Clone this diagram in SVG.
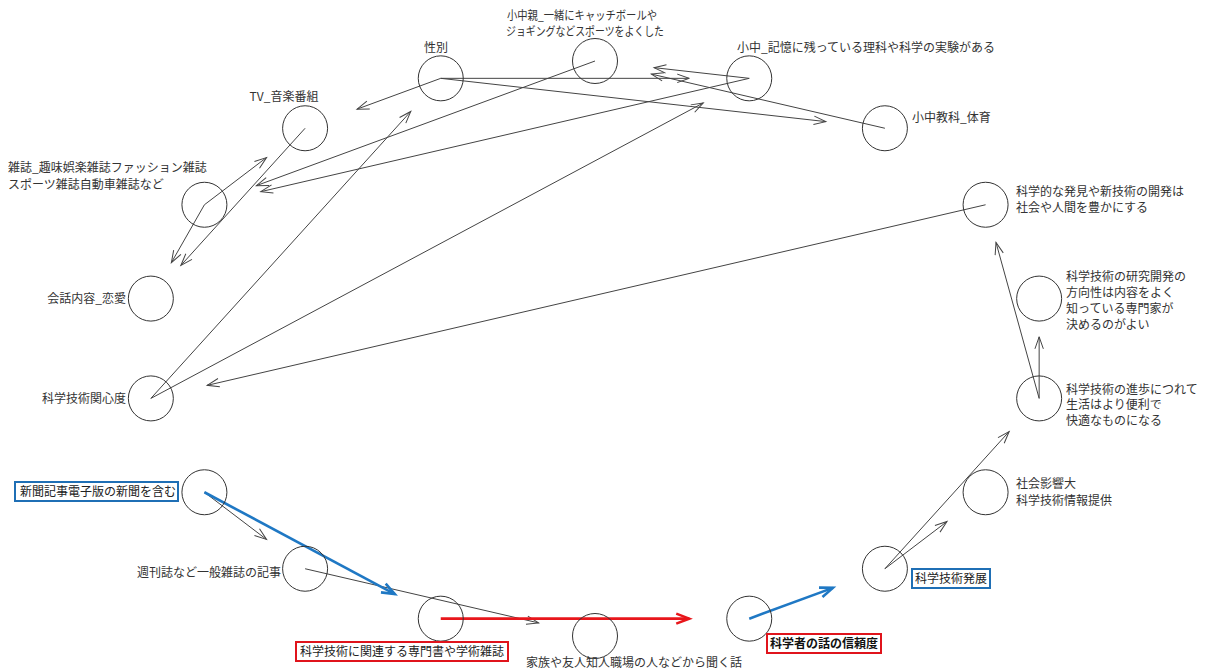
<svg xmlns="http://www.w3.org/2000/svg" width="1207" height="672" viewBox="0 0 1207 672">
<style>
.n{fill:none;stroke:#333;stroke-width:1}
.t{font-family:"Noto Sans CJK JP","Noto Sans",sans-serif;font-size:12px;fill:#333}
.e{fill:none;stroke:#444;stroke-width:1;marker-end:url(#ah)}
.eb{fill:none;stroke:#1f78c4;stroke-width:2.6;marker-end:url(#ahb)}
.er{fill:none;stroke:#e8161b;stroke-width:2.6;marker-end:url(#ahr)}
.bb{fill:#fff;stroke:#1f6fb5;stroke-width:2}
.br{fill:#fff;stroke:#e0141c;stroke-width:2}
</style>
<defs>
<marker id="ah" markerUnits="userSpaceOnUse" viewBox="-14 -7 16 14" refX="0" refY="0" markerWidth="16" markerHeight="14" orient="auto" overflow="visible"><path d="M-12,-4.2 L0,0 L-12,4.2" fill="none" stroke="#444" stroke-width="1"/></marker>
<marker id="ahb" markerUnits="userSpaceOnUse" viewBox="-16 -8 18 16" refX="0" refY="0" markerWidth="18" markerHeight="16" orient="auto" overflow="visible"><path d="M-13,-5 L0,0 L-13,5" fill="none" stroke="#1f78c4" stroke-width="2.6"/></marker>
<marker id="ahr" markerUnits="userSpaceOnUse" viewBox="-16 -8 18 16" refX="0" refY="0" markerWidth="18" markerHeight="16" orient="auto" overflow="visible"><path d="M-13,-5 L0,0 L-13,5" fill="none" stroke="#e8161b" stroke-width="2.6"/></marker>
</defs>
<rect width="1207" height="672" fill="#fff"/>
<g id="connectors">
<line class="e" x1="440.75" y1="78.34" x2="689.25" y2="78.34"/>
<line class="e" x1="440.75" y1="78.34" x2="825.81" y2="121.62"/>
<line class="e" x1="440.75" y1="78.34" x2="357.06" y2="109.14"/>
<line class="e" x1="595" y1="61" x2="256.38" y2="185.63"/>
<line class="e" x1="749.25" y1="78.34" x2="260.80" y2="191.67"/>
<line class="e" x1="749.25" y1="78.34" x2="654.09" y2="67.64"/>
<line class="e" x1="884.90" y1="128.26" x2="651.38" y2="74.08"/>
<line class="e" x1="305.10" y1="128.26" x2="180.85" y2="265.46"/>
<line class="e" x1="204.42" y1="204.75" x2="171.37" y2="262.65"/>
<line class="e" x1="204.42" y1="204.75" x2="266.53" y2="157.55"/>
<line class="e" x1="150.85" y1="398.42" x2="410.75" y2="111.46"/>
<line class="e" x1="150.85" y1="398.42" x2="703.29" y2="102.92"/>
<line class="e" x1="985.58" y1="204.75" x2="207.23" y2="385.34"/>
<line class="e" x1="204.42" y1="492.25" x2="266.53" y2="539.45"/>
<line class="e" x1="305.10" y1="568.74" x2="538.62" y2="622.92"/>
<line class="e" x1="884.90" y1="568.74" x2="1009.15" y2="431.54"/>
<line class="e" x1="884.90" y1="568.74" x2="947.01" y2="521.54"/>
<line class="e" x1="1039.15" y1="398.42" x2="1039.15" y2="336.82"/>
<line class="e" x1="1039.15" y1="398.42" x2="996.0" y2="242.41"/>
<line class="eb" x1="204.42" y1="492.25" x2="394.79" y2="594.08"/>
<line class="er" x1="440.75" y1="618.66" x2="689.25" y2="618.66"/>
<line class="eb" x1="749.25" y1="618.66" x2="832.94" y2="587.86"/>
</g>
<g id="n_shochu_oya"><circle class="n" cx="595" cy="61" r="22.5"/><text class="t" x="507" y="20" textLength="150" lengthAdjust="spacingAndGlyphs">小中親_一緒にキャッチボールや</text><text class="t" x="506" y="35.5" textLength="158" lengthAdjust="spacingAndGlyphs">ジョギングなどスポーツをよくした</text></g>
<g id="n_seibetsu"><circle class="n" cx="440.75" cy="78.34" r="22.5"/><text class="t" x="436" y="51.5" text-anchor="middle">性別</text></g>
<g id="n_tv"><circle class="n" cx="305.10" cy="128.26" r="22.5"/><text class="t" x="284" y="100.5" text-anchor="middle">TV_音楽番組</text></g>
<g id="n_zasshi"><circle class="n" cx="204.42" cy="204.75" r="22.5"/><text class="t" x="8" y="171.5">雑誌_趣味娯楽雑誌ファッション雑誌</text><text class="t" x="8" y="188.5">スポーツ雑誌自動車雑誌など</text></g>
<g id="n_kaiwa"><circle class="n" cx="150.85" cy="298.58" r="22.5"/><text class="t" x="126" y="303" text-anchor="end">会話内容_恋愛</text></g>
<g id="n_kanshin"><circle class="n" cx="150.85" cy="398.42" r="22.5"/><text class="t" x="126" y="403" text-anchor="end">科学技術関心度</text></g>
<g id="n_shinbun"><circle class="n" cx="204.42" cy="492.25" r="22.5"/><rect class="bb" x="15" y="482" width="163" height="19"/><text class="t" x="176" y="496" text-anchor="end" style="fill:#222">新聞記事電子版の新聞を含む</text></g>
<g id="n_shukanshi"><circle class="n" cx="305.10" cy="568.74" r="22.5"/><text class="t" x="281" y="577" text-anchor="end">週刊誌など一般雑誌の記事</text></g>
<g id="n_senmonsho"><circle class="n" cx="440.75" cy="618.66" r="22.5"/><rect class="br" x="296" y="642" width="212" height="19"/><text class="t" x="300" y="656" style="fill:#222">科学技術に関連する専門書や学術雑誌</text></g>
<g id="n_kazoku"><circle class="n" cx="595" cy="636" r="22.5"/><text class="t" x="526" y="667">家族や友人知人職場の人などから聞く話</text></g>
<g id="n_shinrai"><circle class="n" cx="749.25" cy="618.66" r="22.5"/><rect class="br" x="767" y="634" width="114" height="19"/><text class="t" x="770" y="648" style="fill:#111;font-weight:bold">科学者の話の信頼度</text></g>
<g id="n_hatten"><circle class="n" cx="884.90" cy="568.74" r="22.5"/><rect class="bb" x="912" y="569" width="78" height="19"/><text class="t" x="915" y="583" style="fill:#222">科学技術発展</text></g>
<g id="n_shakai"><circle class="n" cx="985.58" cy="492.25" r="22.5"/><text class="t" x="1016" y="488">社会影響大</text><text class="t" x="1016" y="504.5">科学技術情報提供</text></g>
<g id="n_shinpo"><circle class="n" cx="1039.15" cy="398.42" r="22.5"/><text class="t" x="1066" y="393.5">科学技術の進歩につれて</text><text class="t" x="1066" y="409">生活はより便利で</text><text class="t" x="1066" y="424.5">快適なものになる</text></g>
<g id="n_kenkyu"><circle class="n" cx="1039.15" cy="298.58" r="22.5"/><text class="t" x="1066" y="280.5">科学技術の研究開発の</text><text class="t" x="1066" y="296.5">方向性は内容をよく</text><text class="t" x="1066" y="312.5">知っている専門家が</text><text class="t" x="1066" y="328.5">決めるのがよい</text></g>
<g id="n_hakken"><circle class="n" cx="985.58" cy="204.75" r="22.5"/><text class="t" x="1016" y="195.5">科学的な発見や新技術の開発は</text><text class="t" x="1016" y="211.5">社会や人間を豊かにする</text></g>
<g id="n_taiiku"><circle class="n" cx="884.90" cy="128.26" r="22.5"/><text class="t" x="912" y="121.5">小中教科_体育</text></g>
<g id="n_kioku"><circle class="n" cx="749.25" cy="78.34" r="22.5"/><text class="t" x="737" y="51.5">小中_記憶に残っている理科や科学の実験がある</text></g>
</svg>
